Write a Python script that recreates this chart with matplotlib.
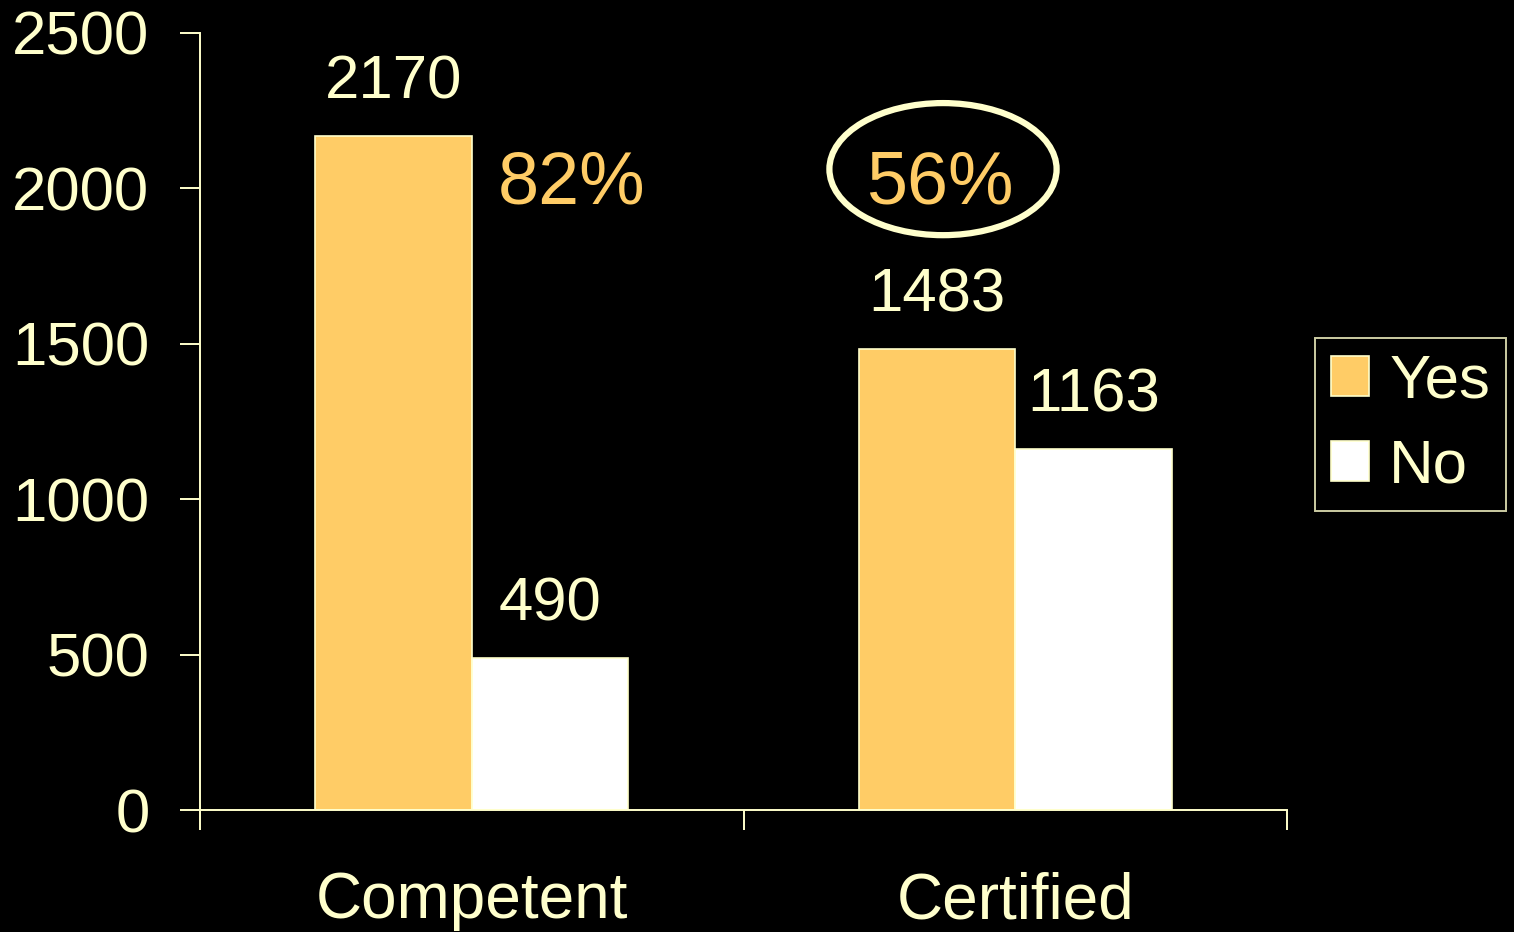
import matplotlib.pyplot as plt
import numpy as np
from matplotlib.patches import Ellipse

plt.rcParams['font.family'] = ['Liberation Sans', 'DejaVu Sans']

# Data
categories = ['Competent', 'Certified']
yes_counts = [2170, 1483]
no_counts = [490, 1163]
yes_pct = ['82%', '56%']

TXT = '#FFFFCC'
GOLD = '#FFCC66'

fig = plt.figure(figsize=(15.14, 9.32), dpi=100, facecolor='black')
ax = fig.add_axes([0.1321, 0.1309, 0.718, 0.8337], facecolor='black')

x = np.arange(len(categories))
width = 0.288

bars_yes = ax.bar(x - width / 2, yes_counts, width, color=GOLD, edgecolor=TXT,
                  linewidth=1.2, label='Yes')
bars_no = ax.bar(x + width / 2, no_counts, width, color='white', edgecolor=TXT,
                 linewidth=1.2, label='No')

# value labels above bars
for bar in list(bars_yes) + list(bars_no):
    h = bar.get_height()
    ax.text(bar.get_x() + bar.get_width() / 2, h + 120, str(int(h)),
            ha='center', va='baseline', color=TXT, fontsize=44.5)

# percentages
ax.text(0.184, 1953, yes_pct[0], ha='center', va='baseline', color=GOLD, fontsize=53)
ax.text(0.862, 1953, yes_pct[1], ha='center', va='baseline', color=GOLD, fontsize=53)
ax.add_patch(Ellipse((0.867, 2062), 0.418, 425, fill=False, edgecolor=TXT,
                     linewidth=4.5, clip_on=False))

ax.set_xlim(-0.5, 1.5)
ax.set_ylim(0, 2500)
ax.set_yticks(np.arange(0, 2501, 500))

# boundary ticks, labels at centers
ax.set_xticks([-0.5, 0.5, 1.5])
ax.set_xticklabels([])
ax.set_xticks(x, minor=True)
ax.set_xticklabels(categories, minor=True)
ax.tick_params(axis='x', which='major', direction='out', length=14.4, width=1.4, color=TXT)
ax.tick_params(axis='x', which='minor', length=0, pad=44, labelsize=46, labelcolor=TXT)
ax.tick_params(axis='y', direction='out', length=14.4, width=1.4, color=TXT,
               pad=22, labelsize=44.5, labelcolor=TXT)

for side in ['top', 'right']:
    ax.spines[side].set_visible(False)
for side in ['left', 'bottom']:
    ax.spines[side].set_color(TXT)
    ax.spines[side].set_linewidth(1.4)

leg = fig.legend(handles=[bars_yes, bars_no], labels=['Yes', 'No'],
                 loc='upper left', bbox_to_anchor=(0.8686, 0.637),
                 fontsize=44.5, frameon=True, fancybox=False, facecolor='black',
                 edgecolor=TXT, handlelength=0.63, handleheight=0.63,
                 handletextpad=0.32, labelspacing=0.45, borderpad=0.25,
                 borderaxespad=0)
leg.get_frame().set_linewidth(1.4)
for t in leg.get_texts():
    t.set_color(TXT)

fig.savefig('out.png', dpi=100, facecolor='black')
